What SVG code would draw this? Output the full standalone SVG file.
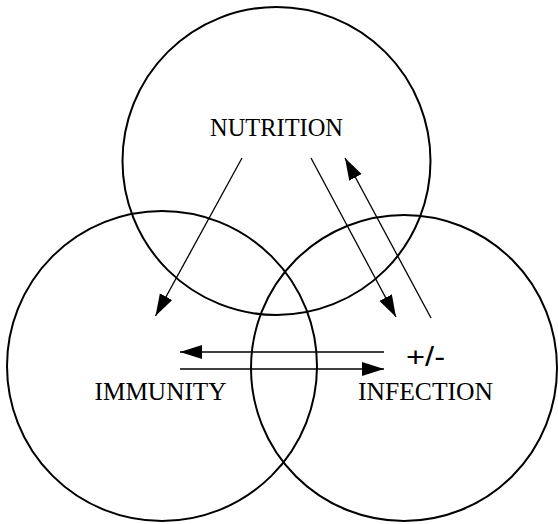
<svg xmlns="http://www.w3.org/2000/svg" width="558" height="524" viewBox="0 0 558 524">
<style>
.c{fill:none;stroke:#000;stroke-width:2}
.a{fill:none;stroke:#000;stroke-width:1.3}
.t{font-family:"Liberation Serif","Times New Roman",serif;font-size:25px;fill:#000;text-anchor:middle}
.s{font-family:"Liberation Sans",Arial,sans-serif;font-size:27px;fill:#000}
</style>
<defs>
<marker id="ah" markerUnits="userSpaceOnUse" markerWidth="24" markerHeight="16" refX="22" refY="7" orient="auto">
<path d="M0,0 L22,7 L0,14 z" fill="#000"/>
</marker>
</defs>
<rect width="558" height="524" fill="#fff"/>
<g id="nutrition">
<circle class="c" cx="276.5" cy="161" r="154"/>
<text class="t" x="276.5" y="136" textLength="133" lengthAdjust="spacingAndGlyphs">NUTRITION</text>
</g>
<g id="immunity">
<circle class="c" cx="162" cy="366" r="155"/>
<text class="t" x="160.5" y="400" textLength="132" lengthAdjust="spacingAndGlyphs">IMMUNITY</text>
</g>
<g id="infection">
<circle class="c" cx="404" cy="368" r="153"/>
<text class="t" x="425.5" y="400" textLength="135" lengthAdjust="spacingAndGlyphs">INFECTION</text>
</g>
<g id="connectors">
<line class="a" x1="242" y1="158" x2="155.5" y2="316" marker-end="url(#ah)"/>
<line class="a" x1="311" y1="158" x2="396" y2="317" marker-end="url(#ah)"/>
<line class="a" x1="431" y1="318" x2="345" y2="158" marker-end="url(#ah)"/>
<line class="a" x1="384" y1="352" x2="180" y2="352" marker-end="url(#ah)"/>
<line class="a" x1="180" y1="369" x2="384" y2="369" marker-end="url(#ah)"/>
<text class="s" x="406" y="366" textLength="39" lengthAdjust="spacingAndGlyphs">+/-</text>
</g>
</svg>
